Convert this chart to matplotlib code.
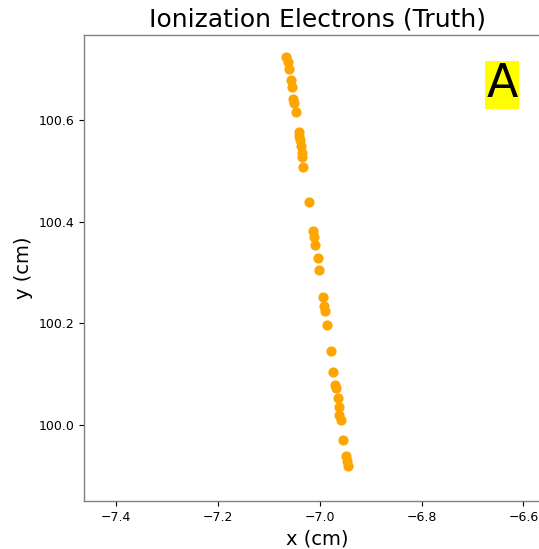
import matplotlib
matplotlib.use("Agg")
import matplotlib.pyplot as plt

x_cm = [-7.0653, -7.0616, -7.0602, -7.0569, -7.0549, -7.0518, -7.0498, -7.0465,
        -7.0406, -7.0400, -7.0386, -7.0373, -7.0353, -7.0341, -7.0322, -7.0216,
        -7.0125, -7.0112, -7.0092, -7.0039, -7.0008, -6.9941, -6.9922, -6.9902,
        -6.9863, -6.9784, -6.9733, -6.9694, -6.9680, -6.9641, -6.9627, -6.9616,
        -6.9588, -6.9537, -6.9484, -6.9459, -6.9439]
y_cm = [100.724, 100.713, 100.701, 100.679, 100.665, 100.641, 100.634, 100.615,
        100.577, 100.568, 100.560, 100.549, 100.535, 100.527, 100.508, 100.438,
        100.382, 100.369, 100.354, 100.329, 100.305, 100.252, 100.233, 100.223,
        100.197, 100.146, 100.103, 100.079, 100.072, 100.052, 100.034, 100.020,
        100.010, 99.970, 99.938, 99.928, 99.918]

xlim = (-7.4627, -6.546)
ylim = (99.850, 100.767)

fig = plt.figure(figsize=(5.39, 5.49), dpi=100)
ax = fig.add_axes([84/539, 48/549, 467/539, 466/549])
ax.scatter(x_cm, y_cm, color="orange", s=40, zorder=3)
ax.set_xlim(*xlim)
ax.set_ylim(*ylim)
ax.set_xticks([-7.4, -7.2, -7.0, -6.8, -6.6])
ax.set_yticks([100.0, 100.2, 100.4, 100.6])
ax.tick_params(labelsize=9)
ax.set_title("Ionization Electrons (Truth)", fontsize=18)
ax.set_xlabel("x (cm)", fontsize=14)
ax.set_ylabel("y (cm)", fontsize=14)
for sp in ax.spines.values():
    sp.set_color("#808080")
    sp.set_linewidth(1.0)
ax.text(0.896, 0.893, "A", transform=ax.transAxes, fontsize=33,
        fontweight="medium", ha="center", va="center",
        bbox=dict(facecolor="yellow", edgecolor="none", pad=1))
fig.savefig("out.png", dpi=100)
